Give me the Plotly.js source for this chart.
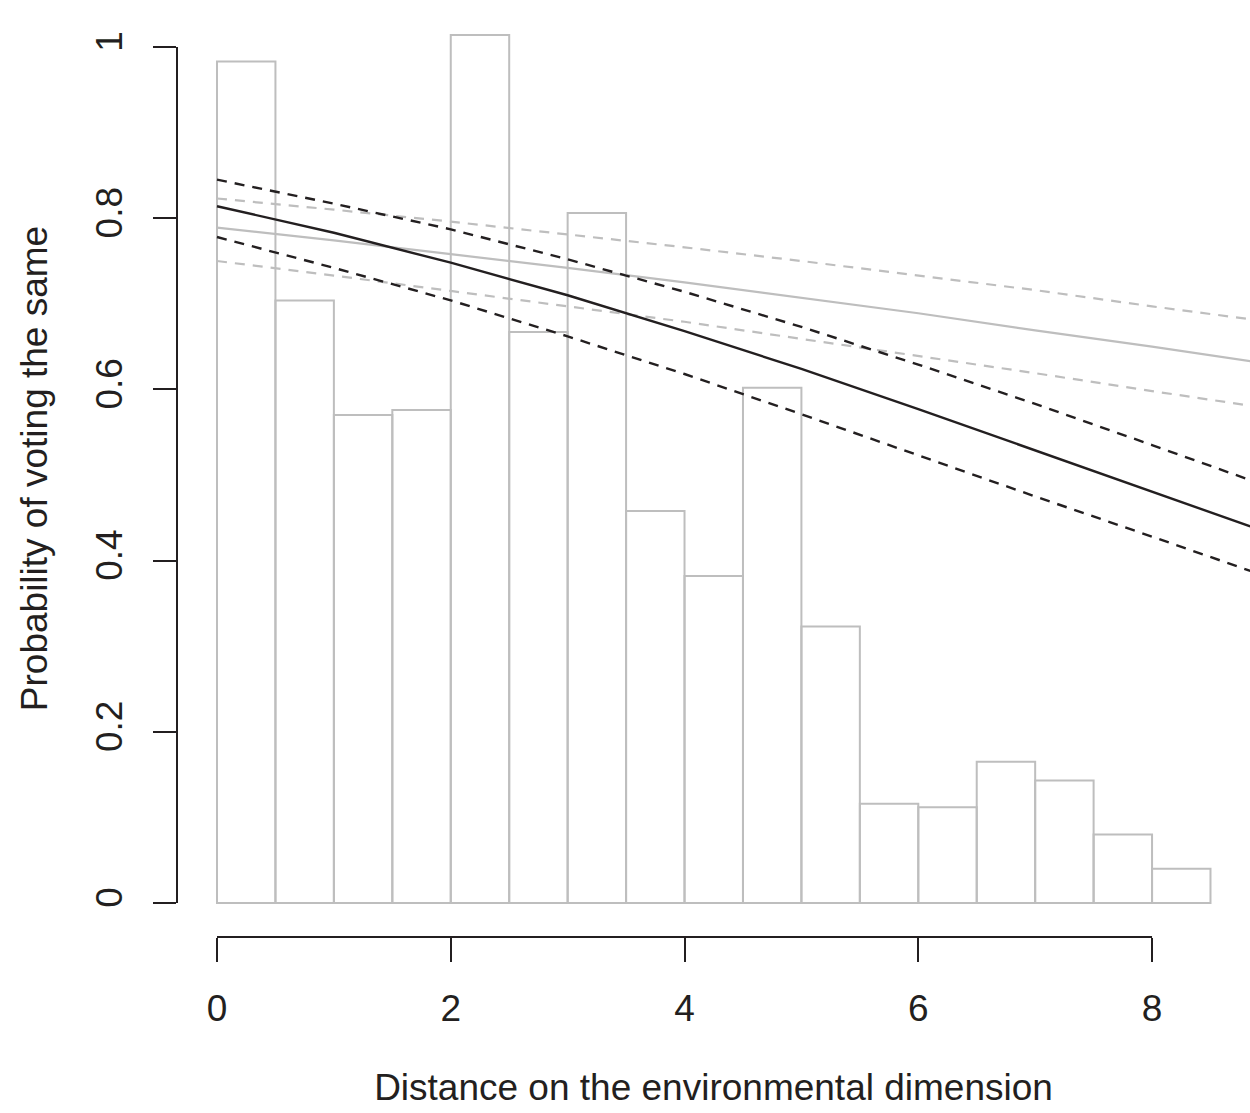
<!DOCTYPE html>
<html>
<head>
<meta charset="utf-8">
<script src="https://cdn.plot.ly/plotly-3.0.1.min.js"></script>
<style>html,body{margin:0;padding:0;background:#fff}#chart{width:1250px;height:1113px}</style>
</head>
<body>
<div id="chart"></div>
<script>
// Histogram bins (midpoints of 0.5-wide bins) and bar heights
const binMids = [0.25,0.75,1.25,1.75,2.25,2.75,3.25,3.75,4.25,4.75,5.25,5.75,6.25,6.75,7.25,7.75,8.25];
const binHeights = [0.983,0.704,0.570,0.576,1.014,0.667,0.806,0.458,0.382,0.602,0.323,0.116,0.112,0.165,0.143,0.080,0.040];

// Predicted-probability curves
const curveX = [0,1,2,3,4,5,6,7,8,8.84];
const blackFit   = [0.814,0.783,0.748,0.710,0.668,0.624,0.577,0.529,0.481,0.440];
const blackUpper = [0.845,0.817,0.787,0.752,0.714,0.673,0.629,0.583,0.535,0.494];
const blackLower = [0.778,0.742,0.704,0.662,0.618,0.571,0.523,0.475,0.428,0.388];
const greyFit    = [0.789,0.774,0.758,0.742,0.725,0.707,0.689,0.669,0.650,0.633];
const greyUpper  = [0.823,0.810,0.796,0.781,0.766,0.750,0.733,0.716,0.697,0.682];
const greyLower  = [0.750,0.733,0.715,0.697,0.679,0.659,0.639,0.619,0.598,0.581];

const xTicks = [0,2,4,6,8];
const xTickText = ['0','2','4','6','8'];
const yTicks = [0,0.2,0.4,0.6,0.8,1];
const yTickText = ['0','0.2','0.4','0.6','0.8','1'];

const GREY = '#bebebe';
const INK = '#231f20';
const FONT = '"Liberation Sans", Arial, Helvetica, sans-serif';
const FS = 37;

function line(y, color, dash, w){
  return {type:'scatter', mode:'lines', x:curveX, y:y,
    line:{color:color, width:w, dash:dash}, hoverinfo:'skip', showlegend:false};
}

const traces = [
  {type:'bar', x:binMids, y:binHeights, width:0.5,
   marker:{color:'rgba(255,255,255,0)', line:{color:GREY, width:2}},
   hoverinfo:'skip', showlegend:false},
  line(greyFit, GREY, 'solid', 2.2),
  line(greyUpper, GREY, '10px,8px', 2.2),
  line(greyLower, GREY, '10px,8px', 2.2),
  line(blackFit, INK, 'solid', 2.4),
  line(blackUpper, INK, '10px,8px', 2.4),
  line(blackLower, INK, '10px,8px', 2.4)
];

const layout = {
  width:1250, height:1113,
  margin:{l:177, r:0, t:0, b:176, pad:0},
  paper_bgcolor:'#fff', plot_bgcolor:'#fff',
  font:{family:FONT, color:INK, size:FS},
  bargap:0,
  xaxis:{range:[-0.3422, 8.838], tickvals:xTicks, ticktext:xTickText,
    ticks:'outside', ticklen:24, tickwidth:2, tickcolor:INK,
    showline:false, showgrid:false, zeroline:false,
    tickfont:{size:FS, color:INK}, ticklabelstandoff:15,
    title:{text:'Distance on the environmental dimension', font:{size:FS, color:INK}, standoff:45}},
  yaxis:{range:[-0.0397, 1.0549], tickvals:yTicks, ticktext:yTickText,
    ticks:'outside', ticklen:23, tickwidth:2, tickcolor:INK,
    showline:false, showgrid:false, zeroline:false, tickangle:-90,
    tickfont:{size:FS, color:INK}, ticklabelstandoff:16,
    title:{text:'Probability of voting the same', font:{size:FS, color:INK}, standoff:30}},
  shapes:[
    {type:'line', xref:'paper', yref:'y', x0:0, x1:0, y0:0, y1:1, line:{color:INK, width:2}},
    {type:'line', xref:'x', yref:'paper', x0:0, x1:8, y0:0, y1:0, line:{color:INK, width:2}}
  ]
};

Plotly.newPlot('chart', traces, layout, {displayModeBar:false, staticPlot:true});
</script>
</body>
</html>
